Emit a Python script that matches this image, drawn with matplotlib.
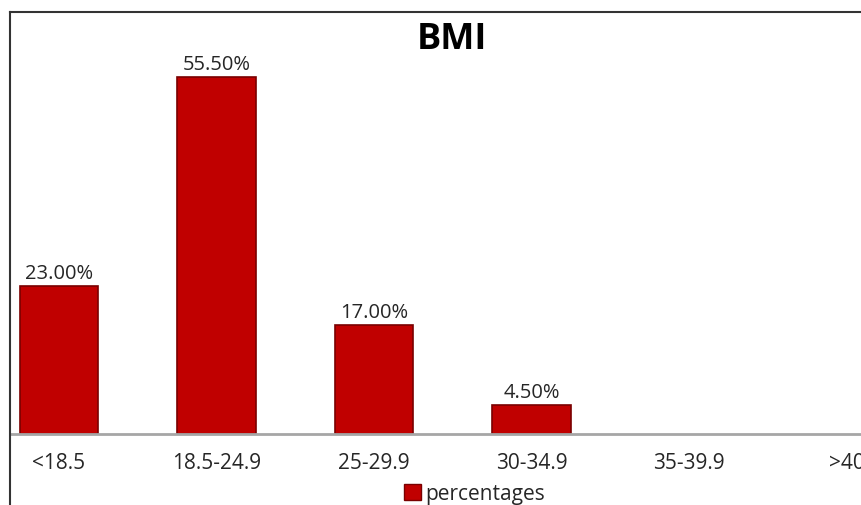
import matplotlib.pyplot as plt
from matplotlib.patches import Rectangle
from matplotlib.lines import Line2D

categories = ["<18.5", "18.5-24.9", "25-29.9", "30-34.9", "35-39.9", ">40"]
percentages = [23.0, 55.5, 17.0, 4.5, 0.0, 0.0]
value_labels = ["23.00%", "55.50%", "17.00%", "4.50%", None, None]
series_name = "percentages"

W, H = 861, 506
plt.rcParams['font.family'] = ['Open Sans', 'DejaVu Sans']

fig = plt.figure(figsize=(W / 100, H / 100), dpi=100)
fig.patch.set_facecolor('white')

# axes placed in pixel terms: baseline at y=435, top at y=13, left at x=10
ax = fig.add_axes([10 / W, (H - 435) / H, (W - 10) / W, (435 - 13) / H])
x = list(range(len(categories)))
edge_widths = [1.2 if v > 0 else 0 for v in percentages]
ax.bar(x, percentages, width=0.5, color='#C00000', edgecolor='#7A0000',
       linewidth=edge_widths, label=series_name, zorder=2)
ax.set_xlim(-0.311, 5.092)
ax.set_ylim(0, 65.6)

for xi, v, lab in zip(x, percentages, value_labels):
    if lab:
        ax.annotate(lab, (xi, v), xytext=(0, 2), textcoords='offset points',
                    ha='center', va='bottom', fontsize=14.5, color='#262626')

ax.set_xticks(x)
ax.set_xticklabels(categories, fontsize=15, color='#262626')
ax.tick_params(axis='x', length=0, pad=13)
ax.set_yticks([])
for side in ['top', 'right', 'left']:
    ax.spines[side].set_visible(False)
ax.spines['bottom'].set_color('#A6A6A6')
ax.spines['bottom'].set_linewidth(2)
ax.spines['bottom'].set_zorder(3)
ax.patch.set_alpha(0)

fig.text(452 / W, 1 - 40 / H, "BMI", ha='center', va='center',
         fontsize=26, fontweight='bold', color='black')

# outer chart border (top and left edges visible)
fig.add_artist(Line2D([10 / W, 1.0], [1 - 13 / H, 1 - 13 / H],
                      transform=fig.transFigure, color='#333333', lw=1.5))
fig.add_artist(Line2D([10 / W, 10 / W], [0, 1 - 13 / H],
                      transform=fig.transFigure, color='#333333', lw=1.5))

handle = Rectangle((0, 0), 1, 1, facecolor='#C00000', edgecolor='#7A0000')
fig.legend([handle], [series_name], loc='center left',
           bbox_to_anchor=(394 / W, 1 - 495 / H), frameon=False,
           handlelength=0.8, handleheight=0.8, handletextpad=0.2,
           borderpad=0, fontsize=15, labelcolor='#262626')

fig.savefig("out.png", dpi=100)
